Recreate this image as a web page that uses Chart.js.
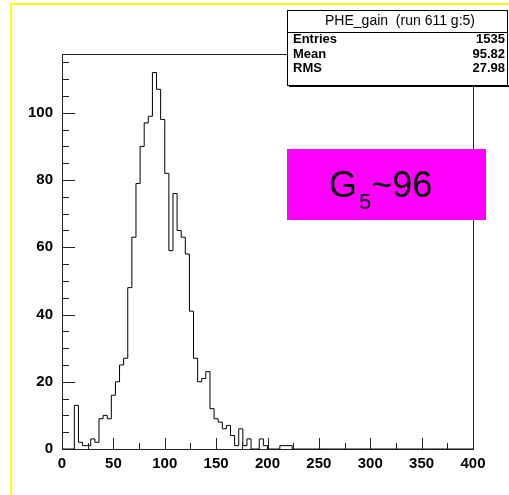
<!DOCTYPE html>
<html>
<head>
<meta charset="utf-8">
<script src="https://cdn.jsdelivr.net/npm/chart.js@4.4.0/dist/chart.umd.min.js"></script>
<style>
  html, body { margin: 0; padding: 0; background: #fff; }
  canvas { display: block; }
</style>
</head>
<body>
<canvas id="gainChart" width="509" height="495"></canvas>
<script>
// histogram PHE_gain, 100 bins of width 4 from 0 to 400
const binWidth = 4;
const xMin = 0;
const xMax = 400;
const counts = [
  0, 0, 0, 13, 2, 1, 1, 3, 2, 9,          // 0 - 40
  10, 9, 16, 20, 25, 27, 48, 63, 79, 90,  // 40 - 80
  97, 99, 112, 107, 98, 82, 59, 76, 65, 63, // 80 - 120
  58, 41, 27, 20, 21, 23, 12, 9, 8, 6,    // 120 - 160
  7, 4, 1, 6, 1, 3, 0, 0, 3, 1,           // 160 - 200
  0, 0, 0, 1, 1, 1, 0, 0, 0, 0,           // 200 - 240
  0, 0, 0, 0, 0, 0, 0, 0, 0, 0,
  0, 0, 0, 0, 0, 0, 0, 0, 0, 0,
  0, 0, 0, 0, 0, 0, 0, 0, 0, 0,
  0, 0, 0, 0, 0, 0, 0, 0, 0, 0            // 360 - 400
];

const statsTitle = 'PHE_gain  (run 611 g:5)';
const statsNames = ['Entries', 'Mean', 'RMS'];
const statsValues = ['1535', '95.82', '27.98'];

const yMax = 117.5;
const yStep = 20;
const xStep = 50;

// bin low edges + closing point so the stepped line draws each bin
const points = counts.map((c, i) => ({ x: xMin + i * binWidth, y: c }));
points.push({ x: xMax, y: 0 });

const FONT = '"Liberation Sans", Arial, Helvetica, sans-serif';

const rootStyle = {
  id: 'rootStyle',
  beforeDraw(chart) {
    const ctx = chart.ctx;
    ctx.save();
    ctx.fillStyle = '#fff';
    ctx.fillRect(0, 0, chart.width, chart.height);
    // yellow pad border
    ctx.fillStyle = '#ffff00';
    ctx.fillRect(10, 3, 2, chart.height - 3);
    ctx.fillRect(10, 3, chart.width - 10, 2);
    ctx.restore();
  },
  afterDraw(chart) {
    const { ctx, chartArea: a, scales: { x, y } } = chart;
    ctx.save();
    ctx.strokeStyle = '#222';
    ctx.lineWidth = 1;
    ctx.strokeRect(a.left + 0.5, a.top + 0.5, a.right - a.left, a.bottom - a.top);

    // ticks inside the frame, like ROOT
    ctx.beginPath();
    for (let v = 0; v <= 115; v += 5) {
      const py = Math.round(y.getPixelForValue(v)) + 0.5;
      const len = v % 20 === 0 ? 13 : 7;
      ctx.moveTo(a.left, py);
      ctx.lineTo(a.left + len, py);
    }
    for (let v = xMin; v <= xMax; v += 25) {
      const px = Math.round(x.getPixelForValue(v)) + 0.5;
      const len = v % 50 === 0 ? 11 : 6;
      ctx.moveTo(px, a.bottom);
      ctx.lineTo(px, a.bottom - len);
    }
    ctx.stroke();

    // stats box
    const bx = 287, by = 10, bw = 221, bh = 75;
    ctx.fillStyle = '#fff';
    ctx.fillRect(bx, by, bw, bh);
    ctx.strokeStyle = '#000';
    ctx.strokeRect(bx + 0.5, by + 0.5, bw - 1, bh);
    ctx.fillStyle = '#000';
    ctx.fillRect(bx + 2, by + bh, bw, 2);
    ctx.beginPath();
    ctx.moveTo(bx, 32.5);
    ctx.lineTo(bx + bw, 32.5);
    ctx.stroke();

    ctx.fillStyle = '#000';
    ctx.textBaseline = 'middle';
    ctx.textAlign = 'center';
    ctx.font = '14px ' + FONT;
    ctx.fillText(statsTitle, 400, 21.5);
    ctx.font = 'bold 13px ' + FONT;
    const rowY = [39.5, 54, 68.5];
    statsNames.forEach((n, i) => {
      ctx.textAlign = 'left';
      ctx.fillText(n, 293, rowY[i]);
      ctx.textAlign = 'right';
      ctx.fillText(statsValues[i], 505, rowY[i]);
    });

    // magenta gain label
    ctx.fillStyle = '#ff00ff';
    ctx.fillRect(287, 149, 199, 71);
    ctx.fillStyle = '#000';
    ctx.textAlign = 'left';
    ctx.textBaseline = 'alphabetic';
    let tx = 329;
    ctx.font = '36px ' + FONT;
    ctx.fillText('G', tx, 197);
    tx += ctx.measureText('G').width + 2;
    ctx.font = '22px ' + FONT;
    ctx.fillText('5', tx, 209);
    tx += ctx.measureText('5').width;
    ctx.font = '36px ' + FONT;
    ctx.fillText('~96', tx, 197);
    ctx.restore();
  }
};

new Chart(document.getElementById('gainChart'), {
  type: 'line',
  data: {
    datasets: [{
      data: points,
      stepped: true,
      borderColor: '#000',
      borderWidth: 1,
      pointRadius: 0,
      fill: false
    }]
  },
  options: {
    responsive: false,
    animation: false,
    devicePixelRatio: 1,
    layout: { padding: { left: 0, top: 54, right: 36, bottom: 0 } },
    plugins: { legend: { display: false }, tooltip: { enabled: false } },
    scales: {
      x: {
        type: 'linear',
        min: xMin,
        max: xMax,
        grid: { display: false, drawTicks: false },
        border: { display: false },
        ticks: {
          stepSize: xStep,
          includeBounds: false,
          padding: 6,
          color: '#000',
          maxRotation: 0,
          font: { family: FONT, size: 15, weight: 'bold' }
        },
        afterFit(scale) { scale.height = 46; }
      },
      y: {
        min: 0,
        max: yMax,
        grid: { display: false, drawTicks: false },
        border: { display: false },
        ticks: {
          stepSize: yStep,
          includeBounds: false,
          padding: 9,
          color: '#000',
          font: { family: FONT, size: 15, weight: 'bold' }
        },
        afterFit(scale) { scale.width = 62; }
      }
    }
  },
  plugins: [rootStyle]
});
</script>
</body>
</html>
